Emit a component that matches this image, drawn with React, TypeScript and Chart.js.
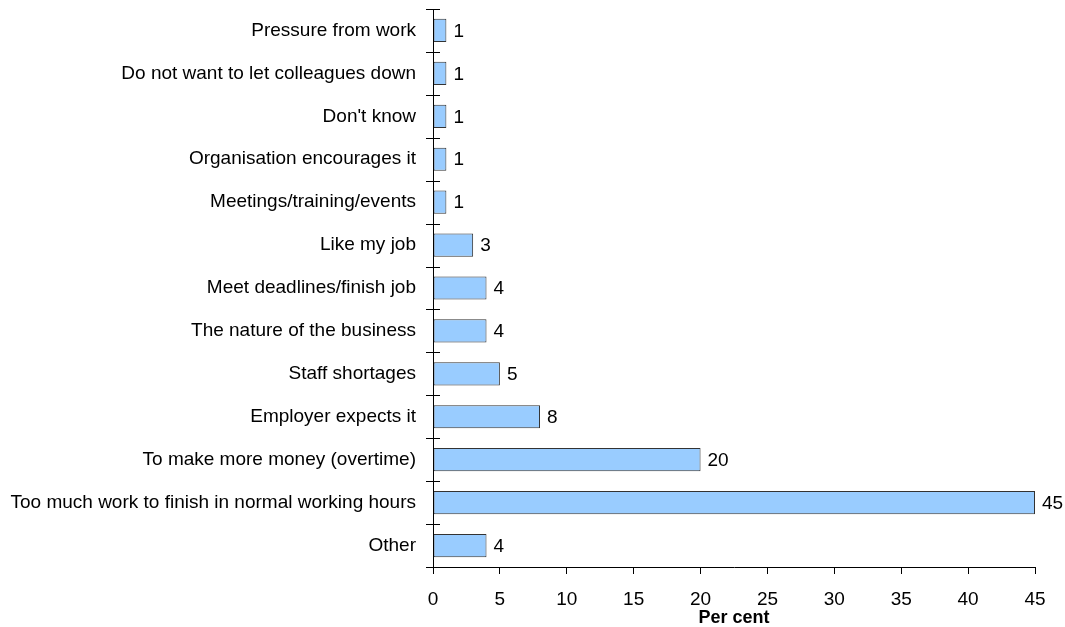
import React, { useEffect, useRef } from "react";
import { Chart, registerables } from "chart.js";

Chart.register(...registerables);

const categories = [
  "Pressure from work",
  "Do not want to let colleagues down",
  "Don't know",
  "Organisation encourages it",
  "Meetings/training/events",
  "Like my job",
  "Meet deadlines/finish job",
  "The nature of the business",
  "Staff shortages",
  "Employer expects it",
  "To make more money (overtime)",
  "Too much work to finish in normal working hours",
  "Other",
];
const values = [1, 1, 1, 1, 1, 3, 4, 4, 5, 8, 20, 45, 4];
const xTicks = [0, 5, 10, 15, 20, 25, 30, 35, 40, 45];
const xTitle = "Per cent";

const FONT = "'Liberation Sans', Arial, sans-serif";

export default function App() {
  const ref = useRef<HTMLCanvasElement | null>(null);
  useEffect(() => {
    document.body.style.margin = "0";
    const canvas = ref.current!;
    const valueLabels = {
      id: "valueLabels",
      afterDatasetsDraw(chart: any) {
        const ctx = chart.ctx;
        const meta = chart.getDatasetMeta(0);
        ctx.save();
        ctx.fillStyle = "#000";
        ctx.font = `19px ${FONT}`;
        ctx.textAlign = "left";
        ctx.textBaseline = "middle";
        meta.data.forEach((bar: any, i: number) => {
          ctx.fillText(String(values[i]), bar.x + 7, bar.y + 1);
        });
        ctx.restore();
      },
    };
    const yTicks = {
      id: "yTicks",
      afterDraw(chart: any) {
        const ctx = chart.ctx;
        const ys = chart.scales.y;
        const n = categories.length;
        const step = (ys.bottom - ys.top) / n;
        ctx.save();
        ctx.strokeStyle = "#000";
        ctx.lineWidth = 1;
        ctx.beginPath();
        for (let i = 0; i <= n; i++) {
          const y = Math.round(ys.top + i * step) + 0.5;
          ctx.moveTo(ys.right - 7, y);
          ctx.lineTo(ys.right + 7, y);
        }
        ctx.moveTo(ys.right + 0.5, ys.top);
        ctx.lineTo(ys.right + 0.5, ys.bottom);
        ctx.stroke();
        ctx.restore();
      },
    };
    const chart = new Chart(canvas, {
      type: "bar",
      data: {
        labels: categories,
        datasets: [
          {
            data: values,
            backgroundColor: "#99CCFF",
            borderColor: "#333333",
            borderWidth: 1,
            borderSkipped: false,
            barPercentage: 0.54,
            categoryPercentage: 1,
          },
        ],
      },
      options: {
        indexAxis: "y",
        animation: false,
        responsive: false,
        maintainAspectRatio: false,
        layout: { padding: { top: 9, right: 30, left: 0, bottom: 0 } },
        plugins: { legend: { display: false }, tooltip: { enabled: false } },
        scales: {
          x: {
            type: "linear",
            min: 0,
            max: 45,
            afterBuildTicks(scale: any) {
              scale.ticks = xTicks.map((v) => ({ value: v }));
            },
            afterFit(scale: any) {
              scale.height = 60;
            },
            grid: {
              drawOnChartArea: false,
              drawTicks: true,
              tickLength: 7,
              color: "#000",
            },
            border: { display: true, color: "#000" },
            ticks: {
              color: "#000",
              font: { family: FONT, size: 19 },
              padding: 14,
              maxRotation: 0,
            },
            title: {
              display: true,
              text: xTitle,
              color: "#000",
              font: { family: FONT, size: 18, weight: "bold" },
              padding: { top: -4, bottom: -2 },
            },
          },
          y: {
            type: "category",
            afterFit(scale: any) {
              scale.width = 433;
              scale.paddingTop = 0;
              scale.paddingBottom = 0;
            },
            grid: { display: false, drawTicks: false },
            border: { display: false },
            ticks: {
              color: "#000",
              font: { family: FONT, size: 19 },
              padding: 17,
            },
          },
        },
      },
      plugins: [valueLabels, yTicks],
    });
    return () => chart.destroy();
  }, []);
  return <canvas ref={ref} width={1065} height={627} style={{ display: "block" }} />;
}
